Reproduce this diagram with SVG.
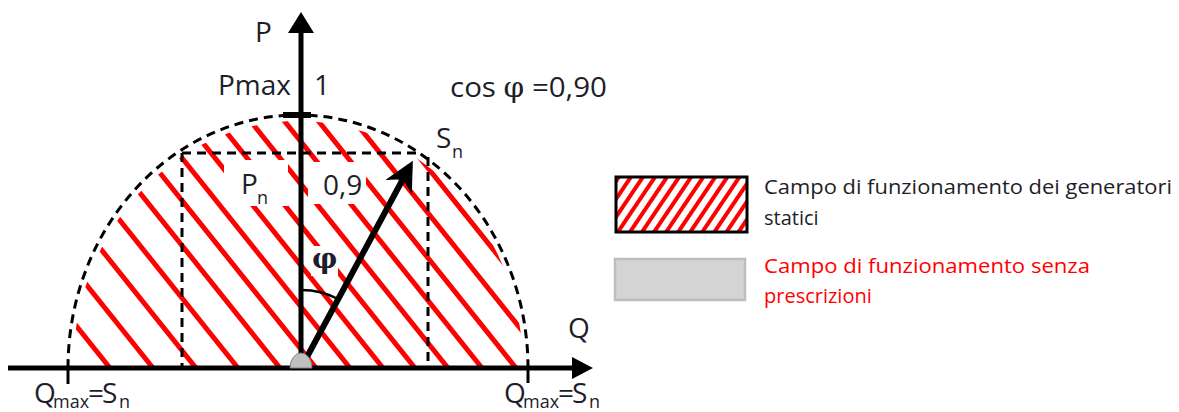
<svg xmlns="http://www.w3.org/2000/svg" width="1179" height="412" viewBox="0 0 1179 412">
<style>
.t{font-family:"Open Sans","Noto Sans","Liberation Sans",sans-serif;font-size:28px;fill:#1e1e2a}
.s{font-size:18px}
.lg{font-family:"Open Sans","Noto Sans","Liberation Sans",sans-serif;font-size:20px;fill:#1e1e2a}
.red{fill:#ff0000}
.h{stroke:#ff0000;stroke-width:5}
.dash{fill:none;stroke:#000;stroke-width:3;stroke-dasharray:9 6}
.ax{stroke:#000;stroke-width:5}
</style>
<defs>
<clipPath id="ell"><path d="M73,368 A225,247 0 0 1 523,368 Z"/></clipPath>
<pattern id="lgh" width="10" height="10" patternUnits="userSpaceOnUse" patternTransform="rotate(-56)">
<rect width="10" height="10" fill="#fff"/><rect width="10" height="4" fill="#ff0000"/>
</pattern>
<marker id="ah" viewBox="0 0 10 10" refX="8" refY="5" markerWidth="5" markerHeight="5" orient="auto" markerUnits="strokeWidth">
<path d="M0,0 L10,5 L0,10 L3,5 Z" fill="#000"/>
</marker>
</defs>
<rect width="1179" height="412" fill="#fff"/>
<g id="hatch" clip-path="url(#ell)">
<g class="h">
<line x1="110" y1="368" x2="-106" y2="98"/>
<line x1="153" y1="368" x2="-63" y2="98"/>
<line x1="196" y1="368" x2="-20" y2="98"/>
<line x1="238" y1="368" x2="22" y2="98"/>
<line x1="280" y1="368" x2="64" y2="98"/>
<line x1="316" y1="368" x2="100" y2="98"/>
<line x1="350" y1="368" x2="134" y2="98"/>
<line x1="383" y1="368" x2="167" y2="98"/>
<line x1="415" y1="368" x2="199" y2="98"/>
<line x1="448" y1="368" x2="232" y2="98"/>
<line x1="482" y1="368" x2="266" y2="98"/>
<line x1="516" y1="368" x2="300" y2="98"/>
<line x1="552" y1="368" x2="336" y2="98"/>
<line x1="588" y1="368" x2="372" y2="98"/>
</g>
</g>
<g id="label-bg" fill="#fff">
<rect x="224" y="160" width="64" height="46"/>
<rect x="308" y="162" width="58" height="42"/>
<rect x="311" y="246" width="27" height="30"/>
</g>
<g id="connectors">
<path id="semi" class="dash" d="M68,368 A230,253 0 0 1 528,368"/>
<line class="dash" x1="182" y1="153" x2="418" y2="153"/>
<line class="dash" x1="182" y1="153" x2="182" y2="368"/>
<line class="dash" x1="428" y1="157" x2="428" y2="368" stroke-width="4"/>
<line class="ax" x1="8" y1="368" x2="574" y2="368"/>
<path d="M572,357 L593,368 L572,379 Z" fill="#000"/>
<line class="ax" x1="301" y1="368" x2="301" y2="30"/>
<path d="M288,33 L301,12 L314,33 Z" fill="#000"/>
<line stroke="#000" stroke-width="3" x1="68" y1="368" x2="68" y2="384"/>
<line stroke="#000" stroke-width="3" x1="528" y1="368" x2="528" y2="383"/>
<rect x="283" y="112" width="28" height="6" fill="#000"/>
<line stroke="#000" stroke-width="6" x1="301" y1="368" x2="410" y2="166" marker-end="url(#ah)"/>
<path d="M301,290 A78,78 0 0 1 338,299" fill="none" stroke="#000" stroke-width="2.5"/>
<path d="M290,368 A11,15 0 0 1 312,368 Z" fill="#c0c0c0" stroke="#808080" stroke-width="1"/>
</g>
<g id="labels">
<text class="t" x="255" y="42">P</text>
<text class="t" x="218" y="95">Pmax</text>
<text class="t" x="314" y="95">1</text>
<text class="t" x="450" y="97" textLength="157" lengthAdjust="spacingAndGlyphs">cos <tspan font-family="DejaVu Serif,serif">φ</tspan> =0,90</text>
<text class="t" x="436" y="148">S</text><text class="t s" x="452" y="158">n</text>
<text class="t" x="241" y="194">P</text><text class="t s" x="257" y="204">n</text>
<text class="t" x="323" y="195">0,9</text>
<text x="312" y="268" font-family="DejaVu Serif,serif" font-weight="bold" font-size="28" fill="#1e1e2a">φ</text>
<text class="t" x="568" y="338">Q</text>
<text class="t" x="34" y="403">Q</text><text class="t s" x="53" y="408">max</text><text class="t" x="88" y="403">=</text><text class="t" x="102" y="403">S</text><text class="t s" x="119" y="408">n</text>
<text class="t" x="504" y="403">Q</text><text class="t s" x="523" y="408">max</text><text class="t" x="558" y="403">=</text><text class="t" x="572" y="403">S</text><text class="t s" x="589" y="408">n</text>
</g>
<g id="legend-static">
<rect x="616" y="177" width="131" height="55" fill="url(#lgh)" stroke="#000" stroke-width="3"/>
<text class="lg" x="764" y="194" textLength="408" lengthAdjust="spacingAndGlyphs">Campo di funzionamento  dei generatori</text>
<text class="lg" x="764" y="225">statici</text>
</g>
<g id="legend-free">
<rect x="615" y="259" width="130" height="41" fill="#d4d4d4" stroke="#bdbdbd" stroke-width="2.5"/>
<text class="lg red" x="764" y="273" textLength="326" lengthAdjust="spacingAndGlyphs">Campo di funzionamento  senza</text>
<text class="lg red" x="764" y="303">prescrizioni</text>
</g>
</svg>
